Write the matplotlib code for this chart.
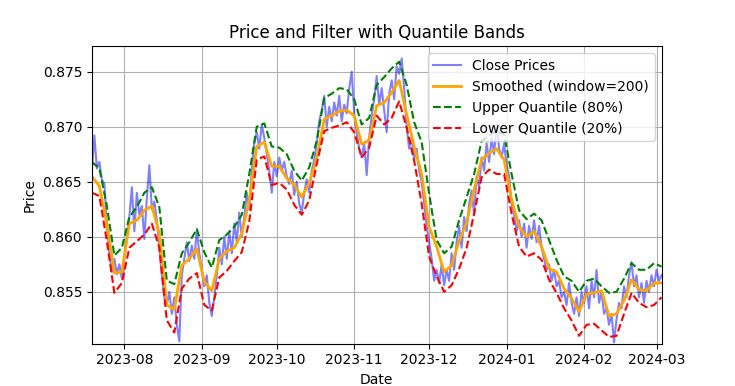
import numpy as np
import pandas as pd
import matplotlib
matplotlib.use("Agg")
import matplotlib.pyplot as plt

start = "2023-07-19"

# daily close prices
close = [
    0.8660, 0.8692, 0.8662, 0.8668, 0.8652, 0.8648, 0.8610, 0.8585, 0.8568, 0.8580,
    0.8566, 0.8575, 0.8562, 0.8580, 0.8600, 0.8618, 0.8645, 0.8605, 0.8640, 0.8620,
    0.8628, 0.8598, 0.8635, 0.8665, 0.8625, 0.8632, 0.8615, 0.8590, 0.8565, 0.8545,
    0.8538, 0.8550, 0.8530, 0.8545, 0.8520, 0.8505, 0.8565, 0.8580, 0.8595, 0.8578,
    0.8592, 0.8580, 0.8606, 0.8585, 0.8570, 0.8555, 0.8565, 0.8540, 0.8528, 0.8545,
    0.8565, 0.8590, 0.8575, 0.8600, 0.8580, 0.8605, 0.8585, 0.8612, 0.8595, 0.8622,
    0.8600, 0.8618, 0.8640, 0.8625, 0.8660, 0.8685, 0.8695, 0.8680, 0.8702, 0.8690,
    0.8675, 0.8660, 0.8640, 0.8668, 0.8655, 0.8672, 0.8660, 0.8668, 0.8655, 0.8648,
    0.8660, 0.8638, 0.8650, 0.8630, 0.8622, 0.8640, 0.8652, 0.8640, 0.8660, 0.8670,
    0.8685, 0.8705, 0.8715, 0.8728, 0.8700, 0.8718, 0.8705, 0.8722, 0.8710, 0.8728,
    0.8705, 0.8720, 0.8712, 0.8735, 0.8750, 0.8712, 0.8695, 0.8680, 0.8672, 0.8685,
    0.8656, 0.8690, 0.8710, 0.8725, 0.8746, 0.8720, 0.8735, 0.8715, 0.8695, 0.8730,
    0.8742, 0.8725, 0.8755, 0.8748, 0.8762, 0.8735, 0.8700, 0.8680, 0.8690, 0.8670,
    0.8680, 0.8660, 0.8650, 0.8630, 0.8610, 0.8595, 0.8580, 0.8560, 0.8570, 0.8558,
    0.8575, 0.8556, 0.8570, 0.8560, 0.8585, 0.8570, 0.8595, 0.8610, 0.8590, 0.8618,
    0.8605, 0.8630, 0.8642, 0.8620, 0.8655, 0.8645, 0.8672, 0.8660, 0.8685, 0.8668,
    0.8690, 0.8675, 0.8703, 0.8680, 0.8672, 0.8685, 0.8665, 0.8655, 0.8630, 0.8620,
    0.8605, 0.8615, 0.8600, 0.8612, 0.8590, 0.8610, 0.8598, 0.8615, 0.8595, 0.8610,
    0.8590, 0.8580, 0.8570, 0.8575, 0.8560, 0.8570, 0.8555, 0.8560, 0.8545, 0.8550,
    0.8538, 0.8558, 0.8540, 0.8530, 0.8545, 0.8528, 0.8550, 0.8540, 0.8555, 0.8535,
    0.8560, 0.8545, 0.8570, 0.8540, 0.8550, 0.8530, 0.8535, 0.8520, 0.8530, 0.8504,
    0.8525, 0.8540, 0.8535, 0.8555, 0.8545, 0.8565, 0.8577, 0.8555, 0.8565, 0.8545,
    0.8558, 0.8540, 0.8560, 0.8550, 0.8565, 0.8555, 0.8570, 0.8560, 0.8565,
]

# smoothed line and quantile bands, every 3 days
smooth = [
    0.8655, 0.8646, 0.8612, 0.8567, 0.8568, 0.8612, 0.8615, 0.8624, 0.8628, 0.8603,
    0.8538, 0.8534, 0.8574, 0.8580, 0.8589, 0.8559, 0.8551, 0.8580, 0.8587, 0.8590,
    0.8603, 0.8633, 0.8682, 0.8686, 0.8664, 0.8664, 0.8653, 0.8647, 0.8636, 0.8649,
    0.8671, 0.8707, 0.8710, 0.8714, 0.8715, 0.8710, 0.8684, 0.8688, 0.8719, 0.8722,
    0.8731, 0.8742, 0.8711, 0.8682, 0.8657, 0.8609, 0.8591, 0.8568, 0.8574, 0.8596,
    0.8613, 0.8643, 0.8670, 0.8676, 0.8680, 0.8670, 0.8634, 0.8609, 0.8600, 0.8605,
    0.8591, 0.8571, 0.8568, 0.8553, 0.8544, 0.8532, 0.8548, 0.8549, 0.8551, 0.8528,
    0.8530, 0.8542, 0.8561, 0.8552, 0.8551, 0.8558, 0.8558,
]

upper = [
    0.8668, 0.8662, 0.8628, 0.8583, 0.8590, 0.8618, 0.8627, 0.8640, 0.8645, 0.8627,
    0.8560, 0.8557, 0.8585, 0.8595, 0.8607, 0.8586, 0.8572, 0.8597, 0.8602, 0.8609,
    0.8620, 0.8657, 0.8700, 0.8703, 0.8682, 0.8681, 0.8675, 0.8660, 0.8651, 0.8663,
    0.8687, 0.8726, 0.8730, 0.8735, 0.8734, 0.8725, 0.8702, 0.8708, 0.8738, 0.8745,
    0.8753, 0.8759, 0.8738, 0.8704, 0.8686, 0.8639, 0.8597, 0.8585, 0.8591, 0.8615,
    0.8636, 0.8657, 0.8687, 0.8692, 0.8696, 0.8693, 0.8657, 0.8624, 0.8616, 0.8621,
    0.8615, 0.8597, 0.8579, 0.8564, 0.8560, 0.8550, 0.8560, 0.8562, 0.8555, 0.8549,
    0.8550, 0.8562, 0.8576, 0.8570, 0.8570, 0.8576, 0.8573,
]

lower = [
    0.8640, 0.8637, 0.8596, 0.8549, 0.8558, 0.8590, 0.8596, 0.8602, 0.8612, 0.8590,
    0.8524, 0.8513, 0.8553, 0.8562, 0.8567, 0.8538, 0.8533, 0.8563, 0.8569, 0.8578,
    0.8586, 0.8614, 0.8670, 0.8673, 0.8647, 0.8649, 0.8643, 0.8629, 0.8620, 0.8633,
    0.8666, 0.8696, 0.8699, 0.8701, 0.8704, 0.8695, 0.8672, 0.8681, 0.8710, 0.8702,
    0.8708, 0.8723, 0.8699, 0.8669, 0.8630, 0.8582, 0.8564, 0.8550, 0.8556, 0.8571,
    0.8590, 0.8621, 0.8654, 0.8661, 0.8657, 0.8657, 0.8621, 0.8591, 0.8582, 0.8585,
    0.8579, 0.8561, 0.8549, 0.8535, 0.8524, 0.8510, 0.8520, 0.8521, 0.8515, 0.8509,
    0.8510, 0.8530, 0.8549, 0.8540, 0.8536, 0.8538, 0.8545,
]

dates = pd.date_range(start, periods=len(close), freq="D")
band_dates = pd.date_range(start, periods=len(smooth), freq="3D")

plt.figure(figsize=(7.35, 3.86), dpi=100)
plt.plot(dates, close, label="Close Prices", color="blue", alpha=0.5)
plt.plot(band_dates, smooth, label="Smoothed (window=200)", color="orange", linewidth=2)
plt.plot(band_dates, upper, "--", label="Upper Quantile (80%)", color="green")
plt.plot(band_dates, lower, "--", label="Lower Quantile (20%)", color="red")
plt.xlim(dates[0], dates[-1])
plt.ylim(0.8503, 0.8773)
plt.title("Price and Filter with Quantile Bands")
plt.xlabel("Date")
plt.ylabel("Price")
plt.legend(loc="upper right")
plt.grid(True)
plt.savefig("out.png", dpi=100)
